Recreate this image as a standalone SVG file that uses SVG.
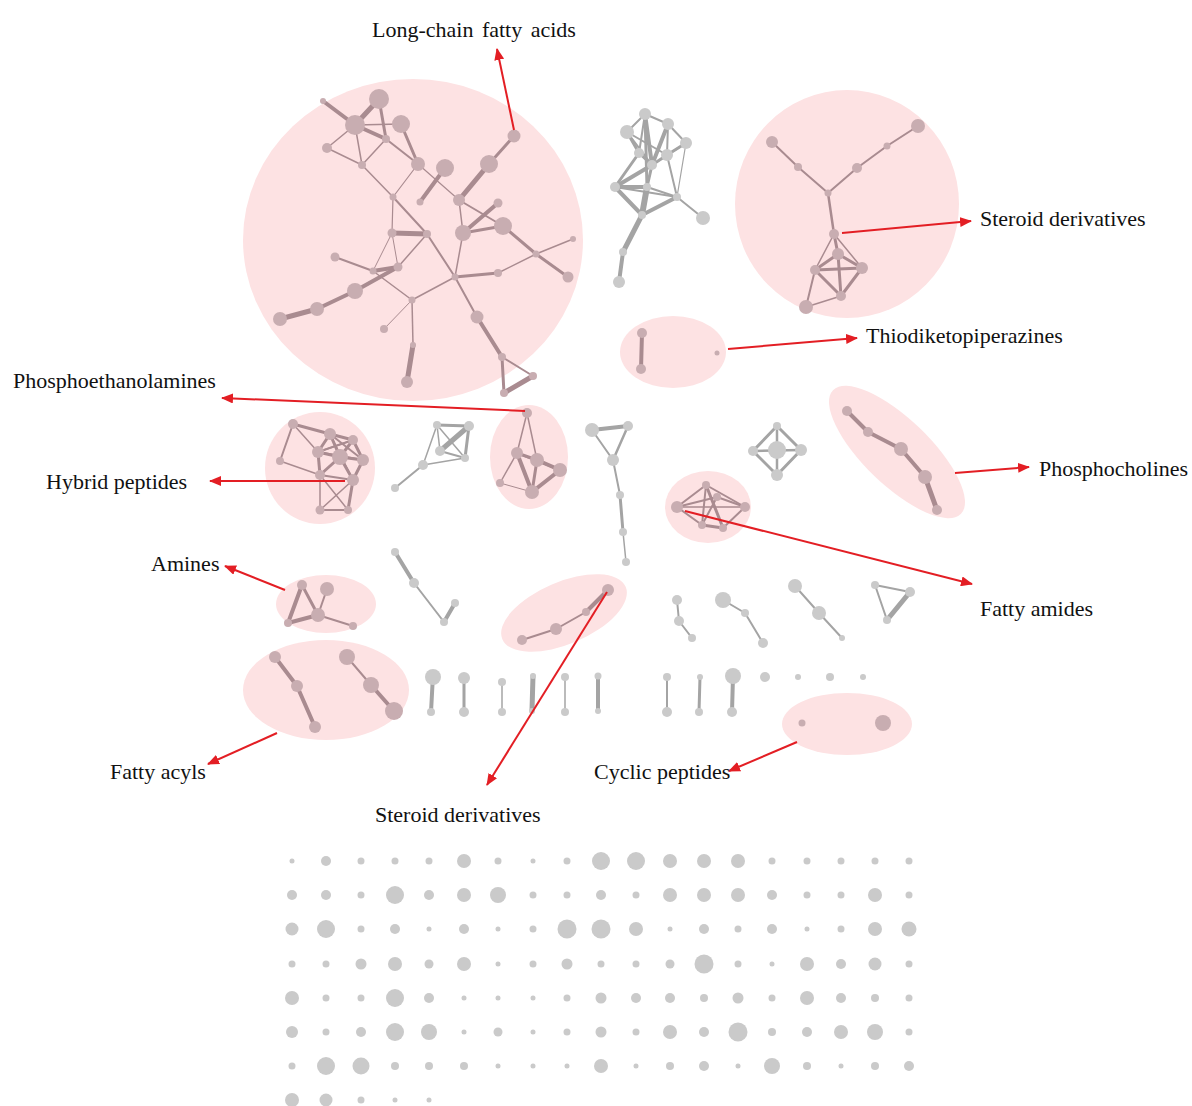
<svg xmlns="http://www.w3.org/2000/svg" width="1192" height="1106" viewBox="0 0 1192 1106">
<style>
.hl{fill:#fde2e3}
.pe line{stroke:#a98b90;stroke-linecap:round}
.ge line{stroke:#a4a4a4;stroke-linecap:round}
.pn circle{fill:#c8adb1}
.gn circle{fill:#cacaca}
.arr line{stroke:#e31e24;stroke-width:2}
text{font-family:"Liberation Serif","Times New Roman",serif;font-size:22px;fill:#111}
</style>
<defs>
<marker id="ah" markerUnits="userSpaceOnUse" markerWidth="12" markerHeight="10" refX="11" refY="5" orient="auto">
<path d="M0,0 L12,5 L0,10 z" fill="#e31e24"/>
</marker>
</defs>
<rect width="1192" height="1106" fill="#fff"/>

<g id="highlights">
<ellipse class="hl" cx="413" cy="240" rx="170" ry="161"/>
<ellipse class="hl" cx="847" cy="204" rx="112" ry="114"/>
<ellipse class="hl" cx="673" cy="352" rx="53" ry="36"/>
<ellipse class="hl" cx="320" cy="468" rx="55" ry="56"/>
<ellipse class="hl" cx="529" cy="457" rx="39" ry="52"/>
<ellipse class="hl" cx="708" cy="507" rx="43" ry="36"/>
<ellipse class="hl" cx="897" cy="452" rx="89" ry="33" transform="rotate(44 897 452)"/>
<ellipse class="hl" cx="326" cy="604" rx="50" ry="29"/>
<ellipse class="hl" cx="564" cy="613" rx="67" ry="31" transform="rotate(-23 564 613)"/>
<ellipse class="hl" cx="326" cy="690" rx="83" ry="50"/>
<ellipse class="hl" cx="847" cy="724" rx="65" ry="31"/>
</g>

<g id="edges">
<g class="pe" id="edges-longchain">
<line x1="323" y1="101" x2="355" y2="125" stroke-width="4"/>
<line x1="379" y1="99" x2="355" y2="125" stroke-width="5"/>
<line x1="379" y1="99" x2="386" y2="139" stroke-width="3"/>
<line x1="355" y1="125" x2="401" y2="124" stroke-width="1.5"/>
<line x1="355" y1="125" x2="386" y2="139" stroke-width="4"/>
<line x1="355" y1="125" x2="327" y2="148" stroke-width="1.5"/>
<line x1="355" y1="125" x2="362" y2="165" stroke-width="1.5"/>
<line x1="327" y1="148" x2="362" y2="165" stroke-width="1.5"/>
<line x1="362" y1="165" x2="386" y2="139" stroke-width="1.5"/>
<line x1="386" y1="139" x2="418" y2="164" stroke-width="2"/>
<line x1="401" y1="124" x2="418" y2="164" stroke-width="3"/>
<line x1="362" y1="165" x2="393" y2="197" stroke-width="1.5"/>
<line x1="393" y1="197" x2="427" y2="234" stroke-width="2"/>
<line x1="427" y1="234" x2="455" y2="277" stroke-width="2"/>
<line x1="455" y1="277" x2="477" y2="317" stroke-width="2"/>
<line x1="477" y1="317" x2="502" y2="357" stroke-width="4"/>
<line x1="418" y1="164" x2="459" y2="200" stroke-width="1.2"/>
<line x1="418" y1="164" x2="393" y2="197" stroke-width="1.2"/>
<line x1="445" y1="168" x2="420" y2="202" stroke-width="4"/>
<line x1="489" y1="164" x2="459" y2="200" stroke-width="5"/>
<line x1="514" y1="136" x2="489" y2="164" stroke-width="3"/>
<line x1="498" y1="203" x2="463" y2="233" stroke-width="4"/>
<line x1="463" y1="233" x2="503" y2="226" stroke-width="3"/>
<line x1="459" y1="200" x2="463" y2="233" stroke-width="1.5"/>
<line x1="459" y1="200" x2="503" y2="226" stroke-width="2"/>
<line x1="503" y1="226" x2="536" y2="254" stroke-width="3"/>
<line x1="536" y1="254" x2="568" y2="277" stroke-width="3"/>
<line x1="536" y1="254" x2="573" y2="239" stroke-width="1.5"/>
<line x1="536" y1="254" x2="498" y2="273" stroke-width="1.5"/>
<line x1="393" y1="197" x2="392" y2="233" stroke-width="1.2"/>
<line x1="392" y1="233" x2="427" y2="234" stroke-width="5"/>
<line x1="427" y1="234" x2="398" y2="267" stroke-width="1.5"/>
<line x1="463" y1="233" x2="455" y2="277" stroke-width="1.5"/>
<line x1="392" y1="233" x2="373" y2="271" stroke-width="1"/>
<line x1="392" y1="233" x2="398" y2="267" stroke-width="1"/>
<line x1="335" y1="257" x2="373" y2="271" stroke-width="2"/>
<line x1="373" y1="271" x2="398" y2="267" stroke-width="4"/>
<line x1="398" y1="267" x2="355" y2="291" stroke-width="4"/>
<line x1="355" y1="291" x2="317" y2="309" stroke-width="4"/>
<line x1="317" y1="309" x2="280" y2="319" stroke-width="5"/>
<line x1="373" y1="271" x2="412" y2="300" stroke-width="1.5"/>
<line x1="455" y1="277" x2="412" y2="300" stroke-width="1.5"/>
<line x1="455" y1="277" x2="498" y2="273" stroke-width="3"/>
<line x1="412" y1="300" x2="384" y2="329" stroke-width="1"/>
<line x1="412" y1="300" x2="413" y2="345" stroke-width="1.5"/>
<line x1="413" y1="345" x2="407" y2="382" stroke-width="5"/>
<line x1="502" y1="357" x2="533" y2="376" stroke-width="2"/>
<line x1="502" y1="357" x2="504" y2="393" stroke-width="3"/>
<line x1="533" y1="376" x2="504" y2="393" stroke-width="5"/>
</g>
<g class="ge" id="edges-topmid">
<line x1="645" y1="114" x2="668" y2="124" stroke-width="2"/>
<line x1="645" y1="114" x2="627" y2="132" stroke-width="2"/>
<line x1="645" y1="114" x2="639" y2="153" stroke-width="2"/>
<line x1="645" y1="114" x2="652" y2="165" stroke-width="4"/>
<line x1="668" y1="124" x2="686" y2="143" stroke-width="2"/>
<line x1="668" y1="124" x2="667" y2="155" stroke-width="2"/>
<line x1="627" y1="132" x2="639" y2="153" stroke-width="3"/>
<line x1="627" y1="132" x2="667" y2="155" stroke-width="2"/>
<line x1="686" y1="143" x2="667" y2="155" stroke-width="3"/>
<line x1="686" y1="143" x2="652" y2="165" stroke-width="2"/>
<line x1="639" y1="153" x2="652" y2="165" stroke-width="3"/>
<line x1="667" y1="155" x2="652" y2="165" stroke-width="3"/>
<line x1="639" y1="153" x2="615" y2="187" stroke-width="3"/>
<line x1="652" y1="165" x2="615" y2="187" stroke-width="4"/>
<line x1="652" y1="165" x2="647" y2="187" stroke-width="3"/>
<line x1="615" y1="187" x2="647" y2="187" stroke-width="4"/>
<line x1="615" y1="187" x2="642" y2="215" stroke-width="4"/>
<line x1="647" y1="187" x2="642" y2="215" stroke-width="6"/>
<line x1="647" y1="187" x2="677" y2="197" stroke-width="2"/>
<line x1="677" y1="197" x2="642" y2="215" stroke-width="4"/>
<line x1="677" y1="197" x2="703" y2="218" stroke-width="2"/>
<line x1="615" y1="187" x2="677" y2="197" stroke-width="2"/>
<line x1="642" y1="215" x2="623" y2="252" stroke-width="5"/>
<line x1="623" y1="252" x2="619" y2="282" stroke-width="4"/>
<line x1="645" y1="114" x2="647" y2="187" stroke-width="3"/>
<line x1="668" y1="124" x2="652" y2="165" stroke-width="4"/>
<line x1="686" y1="143" x2="677" y2="197" stroke-width="1.2"/>
<line x1="667" y1="155" x2="677" y2="197" stroke-width="2"/>
<line x1="627" y1="132" x2="652" y2="165" stroke-width="2"/>
</g>
<g class="pe" id="edges-steroid-top">
<line x1="772" y1="142" x2="798" y2="167" stroke-width="2"/>
<line x1="798" y1="167" x2="828" y2="193" stroke-width="2"/>
<line x1="918" y1="126" x2="887" y2="146" stroke-width="2"/>
<line x1="887" y1="146" x2="857" y2="168" stroke-width="2"/>
<line x1="857" y1="168" x2="828" y2="193" stroke-width="2"/>
<line x1="828" y1="193" x2="834" y2="234" stroke-width="2.5"/>
<line x1="834" y1="234" x2="838" y2="254" stroke-width="3"/>
<line x1="834" y1="234" x2="815" y2="270" stroke-width="1.5"/>
<line x1="834" y1="234" x2="862" y2="268" stroke-width="1.5"/>
<line x1="838" y1="254" x2="815" y2="270" stroke-width="3"/>
<line x1="838" y1="254" x2="862" y2="268" stroke-width="3"/>
<line x1="838" y1="254" x2="841" y2="296" stroke-width="3"/>
<line x1="815" y1="270" x2="862" y2="268" stroke-width="3"/>
<line x1="815" y1="270" x2="841" y2="296" stroke-width="3"/>
<line x1="862" y1="268" x2="841" y2="296" stroke-width="3"/>
<line x1="815" y1="270" x2="806" y2="307" stroke-width="2"/>
<line x1="806" y1="307" x2="841" y2="296" stroke-width="1.5"/>
</g>
<g class="pe" id="edges-thio">
<line x1="642" y1="333" x2="641" y2="369" stroke-width="4"/>
</g>
<g class="ge" id="edges-midchain">
<line x1="592" y1="430" x2="628" y2="426" stroke-width="4"/>
<line x1="592" y1="430" x2="613" y2="460" stroke-width="2"/>
<line x1="628" y1="426" x2="613" y2="460" stroke-width="2.5"/>
<line x1="613" y1="460" x2="620" y2="495" stroke-width="2"/>
<line x1="620" y1="495" x2="623" y2="532" stroke-width="3"/>
<line x1="623" y1="532" x2="626" y2="562" stroke-width="1.5"/>
</g>
<g class="ge" id="edges-diamond">
<line x1="777" y1="426" x2="753" y2="451" stroke-width="3"/>
<line x1="777" y1="426" x2="801" y2="450" stroke-width="3"/>
<line x1="753" y1="451" x2="777" y2="475" stroke-width="3"/>
<line x1="801" y1="450" x2="777" y2="475" stroke-width="3"/>
<line x1="777" y1="426" x2="777" y2="475" stroke-width="2.5"/>
<line x1="753" y1="451" x2="801" y2="450" stroke-width="2.5"/>
</g>
<g class="pe" id="edges-phosphocholines">
<line x1="847" y1="411" x2="868" y2="432" stroke-width="4"/>
<line x1="868" y1="432" x2="901" y2="449" stroke-width="4"/>
<line x1="901" y1="449" x2="925" y2="477" stroke-width="4"/>
<line x1="925" y1="477" x2="937" y2="510" stroke-width="5"/>
</g>
<g class="pe" id="edges-hybrid">
<line x1="293" y1="424" x2="330" y2="434" stroke-width="3"/>
<line x1="293" y1="424" x2="280" y2="461" stroke-width="2"/>
<line x1="293" y1="424" x2="318" y2="452" stroke-width="1.5"/>
<line x1="280" y1="461" x2="320" y2="475" stroke-width="1.5"/>
<line x1="330" y1="434" x2="353" y2="440" stroke-width="3"/>
<line x1="330" y1="434" x2="318" y2="452" stroke-width="3"/>
<line x1="330" y1="434" x2="340" y2="457" stroke-width="3"/>
<line x1="330" y1="434" x2="363" y2="460" stroke-width="2"/>
<line x1="353" y1="440" x2="363" y2="460" stroke-width="3"/>
<line x1="353" y1="440" x2="340" y2="457" stroke-width="3"/>
<line x1="353" y1="440" x2="318" y2="452" stroke-width="2"/>
<line x1="318" y1="452" x2="340" y2="457" stroke-width="3"/>
<line x1="318" y1="452" x2="320" y2="475" stroke-width="3"/>
<line x1="318" y1="452" x2="363" y2="460" stroke-width="2"/>
<line x1="340" y1="457" x2="363" y2="460" stroke-width="3"/>
<line x1="340" y1="457" x2="320" y2="475" stroke-width="3"/>
<line x1="340" y1="457" x2="353" y2="480" stroke-width="3"/>
<line x1="363" y1="460" x2="353" y2="480" stroke-width="3"/>
<line x1="320" y1="475" x2="353" y2="480" stroke-width="2"/>
<line x1="320" y1="475" x2="320" y2="510" stroke-width="1.5"/>
<line x1="353" y1="480" x2="348" y2="510" stroke-width="3"/>
<line x1="320" y1="475" x2="348" y2="510" stroke-width="1.5"/>
<line x1="353" y1="480" x2="320" y2="510" stroke-width="1.5"/>
<line x1="320" y1="510" x2="348" y2="510" stroke-width="2"/>
<line x1="330" y1="434" x2="353" y2="480" stroke-width="1.5"/>
<line x1="318" y1="452" x2="353" y2="440" stroke-width="1.5"/>
</g>
<g class="ge" id="edges-midgray">
<line x1="437" y1="425" x2="469" y2="426" stroke-width="3"/>
<line x1="437" y1="425" x2="440" y2="451" stroke-width="1.5"/>
<line x1="469" y1="426" x2="465" y2="458" stroke-width="3"/>
<line x1="469" y1="426" x2="440" y2="451" stroke-width="5"/>
<line x1="440" y1="451" x2="465" y2="458" stroke-width="2"/>
<line x1="437" y1="425" x2="423" y2="465" stroke-width="1.5"/>
<line x1="423" y1="465" x2="465" y2="458" stroke-width="1.5"/>
<line x1="437" y1="425" x2="465" y2="458" stroke-width="1.5"/>
<line x1="423" y1="465" x2="395" y2="488" stroke-width="2"/>
</g>
<g class="pe" id="edges-phosphoeth">
<line x1="527" y1="413" x2="517" y2="453" stroke-width="1.5"/>
<line x1="527" y1="413" x2="537" y2="460" stroke-width="1.5"/>
<line x1="517" y1="453" x2="537" y2="460" stroke-width="3"/>
<line x1="537" y1="460" x2="560" y2="470" stroke-width="4"/>
<line x1="517" y1="453" x2="532" y2="492" stroke-width="4"/>
<line x1="537" y1="460" x2="532" y2="492" stroke-width="3"/>
<line x1="560" y1="470" x2="532" y2="492" stroke-width="4"/>
<line x1="500" y1="483" x2="517" y2="453" stroke-width="1.5"/>
<line x1="500" y1="483" x2="532" y2="492" stroke-width="1"/>
<line x1="517" y1="453" x2="560" y2="470" stroke-width="2"/>
</g>
<g class="pe" id="edges-fattyamides">
<line x1="677" y1="507" x2="706" y2="485" stroke-width="2"/>
<line x1="706" y1="485" x2="745" y2="507" stroke-width="2"/>
<line x1="677" y1="507" x2="702" y2="525" stroke-width="2"/>
<line x1="702" y1="525" x2="723" y2="528" stroke-width="3"/>
<line x1="723" y1="528" x2="745" y2="507" stroke-width="2"/>
<line x1="706" y1="485" x2="723" y2="528" stroke-width="3"/>
<line x1="717" y1="497" x2="702" y2="525" stroke-width="2"/>
<line x1="717" y1="497" x2="745" y2="507" stroke-width="2"/>
<line x1="677" y1="507" x2="745" y2="507" stroke-width="1.5"/>
<line x1="706" y1="485" x2="702" y2="525" stroke-width="2"/>
<line x1="677" y1="507" x2="717" y2="497" stroke-width="2"/>
</g>
<g class="pe" id="edges-amines">
<line x1="302" y1="585" x2="288" y2="623" stroke-width="4"/>
<line x1="302" y1="585" x2="318" y2="615" stroke-width="3"/>
<line x1="288" y1="623" x2="318" y2="615" stroke-width="4"/>
<line x1="327" y1="589" x2="318" y2="615" stroke-width="2"/>
<line x1="318" y1="615" x2="353" y2="626" stroke-width="2"/>
</g>
<g class="ge" id="edges-lowgray">
<line x1="395" y1="552" x2="414" y2="583" stroke-width="4"/>
<line x1="414" y1="583" x2="444" y2="622" stroke-width="2"/>
<line x1="444" y1="622" x2="455" y2="603" stroke-width="4"/>
<line x1="677" y1="600" x2="679" y2="621" stroke-width="2"/>
<line x1="679" y1="621" x2="692" y2="638" stroke-width="2"/>
<line x1="723" y1="600" x2="745" y2="613" stroke-width="2"/>
<line x1="745" y1="613" x2="763" y2="643" stroke-width="2"/>
<line x1="795" y1="586" x2="819" y2="613" stroke-width="2"/>
<line x1="819" y1="613" x2="842" y2="638" stroke-width="2"/>
<line x1="875" y1="585" x2="910" y2="592" stroke-width="2"/>
<line x1="875" y1="585" x2="887" y2="620" stroke-width="2"/>
<line x1="910" y1="592" x2="887" y2="620" stroke-width="5"/>
<line x1="433" y1="675" x2="431" y2="712" stroke-width="4"/>
<line x1="464" y1="678" x2="464" y2="712" stroke-width="3"/>
<line x1="502" y1="682" x2="502" y2="712" stroke-width="1.5"/>
<line x1="533" y1="676" x2="532" y2="710" stroke-width="5"/>
<line x1="565" y1="677" x2="565" y2="712" stroke-width="1.5"/>
<line x1="598" y1="676" x2="598" y2="710" stroke-width="4"/>
<line x1="667" y1="677" x2="667" y2="712" stroke-width="2"/>
<line x1="700" y1="677" x2="699" y2="712" stroke-width="3"/>
<line x1="733" y1="676" x2="732" y2="712" stroke-width="4"/>
</g>
<g class="pe" id="edges-steroid-bottom">
<line x1="608" y1="590" x2="586" y2="612" stroke-width="4"/>
<line x1="586" y1="612" x2="556" y2="629" stroke-width="2"/>
<line x1="556" y1="629" x2="522" y2="640" stroke-width="2"/>
</g>
<g class="pe" id="edges-fattyacyls">
<line x1="275" y1="657" x2="297" y2="686" stroke-width="4"/>
<line x1="297" y1="686" x2="315" y2="727" stroke-width="4"/>
<line x1="347" y1="657" x2="371" y2="685" stroke-width="2"/>
<line x1="371" y1="685" x2="394" y2="711" stroke-width="4"/>
</g>
</g>

<g id="node-long-chain-fatty-acids" class="pn">
<circle cx="323" cy="101" r="3" fill="#d2c4c6"/>
<circle cx="379" cy="99" r="10"/>
<circle cx="355" cy="125" r="10"/>
<circle cx="401" cy="124" r="9"/>
<circle cx="327" cy="148" r="5"/>
<circle cx="386" cy="139" r="4"/>
<circle cx="362" cy="165" r="4"/>
<circle cx="418" cy="164" r="7"/>
<circle cx="445" cy="168" r="9"/>
<circle cx="489" cy="164" r="9"/>
<circle cx="514" cy="136" r="6.5"/>
<circle cx="393" cy="197" r="3.5"/>
<circle cx="420" cy="202" r="3.5"/>
<circle cx="459" cy="200" r="6"/>
<circle cx="498" cy="203" r="4.5"/>
<circle cx="392" cy="233" r="4.5"/>
<circle cx="427" cy="234" r="4"/>
<circle cx="463" cy="233" r="8"/>
<circle cx="503" cy="226" r="9"/>
<circle cx="573" cy="239" r="3"/>
<circle cx="536" cy="254" r="3.5"/>
<circle cx="568" cy="277" r="5.5"/>
<circle cx="335" cy="257" r="4.5"/>
<circle cx="373" cy="271" r="3.5"/>
<circle cx="398" cy="267" r="4.5"/>
<circle cx="455" cy="277" r="3.5"/>
<circle cx="498" cy="273" r="4"/>
<circle cx="355" cy="291" r="8"/>
<circle cx="317" cy="309" r="7"/>
<circle cx="280" cy="319" r="7"/>
<circle cx="412" cy="300" r="3.5"/>
<circle cx="384" cy="329" r="4"/>
<circle cx="477" cy="317" r="6.5"/>
<circle cx="413" cy="345" r="3"/>
<circle cx="407" cy="382" r="6"/>
<circle cx="502" cy="357" r="4"/>
<circle cx="533" cy="376" r="4" fill="#cfcbcc"/>
<circle cx="504" cy="393" r="4" fill="#cfcbcc"/>
</g>

<g id="node-topmid" class="gn">
<circle cx="645" cy="114" r="6"/>
<circle cx="668" cy="124" r="6"/>
<circle cx="627" cy="132" r="7"/>
<circle cx="686" cy="143" r="6"/>
<circle cx="639" cy="153" r="5"/>
<circle cx="667" cy="155" r="6"/>
<circle cx="652" cy="165" r="5"/>
<circle cx="615" cy="187" r="5"/>
<circle cx="647" cy="187" r="4"/>
<circle cx="677" cy="197" r="4"/>
<circle cx="642" cy="215" r="4"/>
<circle cx="703" cy="218" r="7"/>
<circle cx="623" cy="252" r="4"/>
<circle cx="619" cy="282" r="6"/>
</g>

<g id="node-steroid-derivatives-top" class="pn">
<circle cx="772" cy="142" r="6"/>
<circle cx="798" cy="167" r="4"/>
<circle cx="918" cy="126" r="7"/>
<circle cx="887" cy="146" r="3.5"/>
<circle cx="857" cy="168" r="5"/>
<circle cx="828" cy="193" r="3.5"/>
<circle cx="834" cy="234" r="5"/>
<circle cx="838" cy="254" r="6"/>
<circle cx="815" cy="270" r="5"/>
<circle cx="862" cy="268" r="6"/>
<circle cx="841" cy="296" r="5"/>
<circle cx="806" cy="307" r="7"/>
</g>

<g id="node-thiodiketopiperazines" class="pn">
<circle cx="642" cy="333" r="5"/>
<circle cx="641" cy="369" r="5"/>
<circle cx="717" cy="353" r="2.5"/>
</g>

<g id="node-midchain" class="gn">
<circle cx="592" cy="430" r="7"/>
<circle cx="628" cy="426" r="5"/>
<circle cx="613" cy="460" r="6"/>
<circle cx="620" cy="495" r="4"/>
<circle cx="623" cy="532" r="4"/>
<circle cx="626" cy="562" r="4"/>
</g>

<g id="node-diamond" class="gn">
<circle cx="777" cy="450" r="9"/>
<circle cx="777" cy="426" r="4"/>
<circle cx="753" cy="451" r="5"/>
<circle cx="801" cy="450" r="6"/>
<circle cx="777" cy="475" r="6"/>
</g>

<g id="node-phosphocholines" class="pn">
<circle cx="847" cy="411" r="5"/>
<circle cx="868" cy="432" r="5"/>
<circle cx="901" cy="449" r="7"/>
<circle cx="925" cy="477" r="7"/>
<circle cx="937" cy="510" r="5"/>
</g>

<g id="node-hybrid-peptides" class="pn">
<circle cx="293" cy="424" r="5"/>
<circle cx="280" cy="461" r="4"/>
<circle cx="330" cy="434" r="6"/>
<circle cx="353" cy="440" r="5"/>
<circle cx="318" cy="452" r="6"/>
<circle cx="363" cy="460" r="6"/>
<circle cx="340" cy="457" r="8"/>
<circle cx="320" cy="475" r="5"/>
<circle cx="353" cy="480" r="6"/>
<circle cx="320" cy="510" r="4.5"/>
<circle cx="348" cy="510" r="4"/>
</g>

<g id="node-midgray" class="gn">
<circle cx="437" cy="425" r="4"/>
<circle cx="469" cy="426" r="5"/>
<circle cx="440" cy="451" r="5"/>
<circle cx="465" cy="458" r="4"/>
<circle cx="423" cy="465" r="5"/>
<circle cx="395" cy="488" r="4"/>
</g>

<g id="node-phosphoethanolamines" class="pn">
<circle cx="527" cy="413" r="5"/>
<circle cx="517" cy="453" r="6"/>
<circle cx="537" cy="460" r="7"/>
<circle cx="560" cy="470" r="7"/>
<circle cx="500" cy="483" r="4"/>
<circle cx="532" cy="492" r="7"/>
</g>

<g id="node-fatty-amides" class="pn">
<circle cx="677" cy="507" r="6"/>
<circle cx="706" cy="485" r="4"/>
<circle cx="745" cy="507" r="5"/>
<circle cx="702" cy="525" r="4"/>
<circle cx="723" cy="528" r="4"/>
<circle cx="717" cy="497" r="4"/>
</g>

<g id="node-amines" class="pn">
<circle cx="302" cy="585" r="5"/>
<circle cx="327" cy="589" r="7"/>
<circle cx="318" cy="615" r="7"/>
<circle cx="288" cy="623" r="4"/>
<circle cx="353" cy="626" r="4"/>
</g>

<g id="node-steroid-derivatives-bottom" class="pn">
<circle cx="608" cy="590" r="6"/>
<circle cx="586" cy="612" r="4"/>
<circle cx="556" cy="629" r="6"/>
<circle cx="522" cy="640" r="5"/>
</g>

<g id="node-fatty-acyls" class="pn">
<circle cx="275" cy="657" r="6"/>
<circle cx="297" cy="686" r="6"/>
<circle cx="315" cy="727" r="6"/>
<circle cx="347" cy="657" r="8"/>
<circle cx="371" cy="685" r="8"/>
<circle cx="394" cy="711" r="9"/>
</g>

<g id="node-cyclic-peptides" class="pn">
<circle cx="802" cy="723" r="3.5"/>
<circle cx="883" cy="723" r="8"/>
</g>

<g id="node-small-gray" class="gn">
<circle cx="395" cy="552" r="4"/>
<circle cx="414" cy="583" r="5"/>
<circle cx="444" cy="622" r="4"/>
<circle cx="455" cy="603" r="4"/>
<circle cx="677" cy="600" r="5"/>
<circle cx="679" cy="621" r="5"/>
<circle cx="692" cy="638" r="4"/>
<circle cx="723" cy="600" r="8"/>
<circle cx="745" cy="613" r="4"/>
<circle cx="763" cy="643" r="5"/>
<circle cx="795" cy="586" r="7"/>
<circle cx="819" cy="613" r="7"/>
<circle cx="842" cy="638" r="3"/>
<circle cx="875" cy="585" r="4"/>
<circle cx="910" cy="592" r="5"/>
<circle cx="887" cy="620" r="4"/>
<circle cx="433" cy="677" r="8"/>
<circle cx="431" cy="712" r="4"/>
<circle cx="464" cy="678" r="6"/>
<circle cx="464" cy="712" r="5"/>
<circle cx="502" cy="682" r="4"/>
<circle cx="502" cy="712" r="4"/>
<circle cx="533" cy="676" r="3"/>
<circle cx="532" cy="711" r="3"/>
<circle cx="565" cy="677" r="4"/>
<circle cx="565" cy="712" r="4"/>
<circle cx="598" cy="676" r="3.5"/>
<circle cx="598" cy="711" r="3"/>
<circle cx="667" cy="677" r="4"/>
<circle cx="667" cy="712" r="5"/>
<circle cx="700" cy="677" r="3"/>
<circle cx="699" cy="712" r="4"/>
<circle cx="733" cy="676" r="8"/>
<circle cx="732" cy="712" r="5"/>
<circle cx="765" cy="677" r="5"/>
<circle cx="798" cy="677" r="3"/>
<circle cx="830" cy="677" r="4"/>
<circle cx="863" cy="677" r="3"/>
</g>

<g id="node-singletons" class="gn">
<circle cx="292" cy="861" r="2.5"/><circle cx="326" cy="861" r="5"/><circle cx="361" cy="861" r="3.5"/><circle cx="395" cy="861" r="3.5"/><circle cx="429" cy="861" r="3.5"/><circle cx="464" cy="861" r="7"/><circle cx="498" cy="861" r="3.5"/><circle cx="533" cy="861" r="2.5"/><circle cx="567" cy="861" r="3.5"/><circle cx="601" cy="861" r="9"/><circle cx="636" cy="861" r="9"/><circle cx="670" cy="861" r="7"/><circle cx="704" cy="861" r="7"/><circle cx="738" cy="861" r="7"/><circle cx="772" cy="861" r="3.5"/><circle cx="807" cy="861" r="3.5"/><circle cx="841" cy="861" r="3.5"/><circle cx="875" cy="861" r="3.5"/><circle cx="909" cy="861" r="3.5"/>
<circle cx="292" cy="895" r="5"/><circle cx="326" cy="895" r="5"/><circle cx="361" cy="895" r="3.5"/><circle cx="395" cy="895" r="9"/><circle cx="429" cy="895" r="5"/><circle cx="464" cy="895" r="7"/><circle cx="498" cy="895" r="8"/><circle cx="533" cy="895" r="3.5"/><circle cx="567" cy="895" r="3.5"/><circle cx="601" cy="895" r="5"/><circle cx="636" cy="895" r="3.5"/><circle cx="670" cy="895" r="7"/><circle cx="704" cy="895" r="7"/><circle cx="738" cy="895" r="7"/><circle cx="772" cy="895" r="5"/><circle cx="807" cy="895" r="3.5"/><circle cx="841" cy="895" r="3.5"/><circle cx="875" cy="895" r="7"/><circle cx="909" cy="895" r="3.5"/>
<circle cx="292" cy="929" r="6.5"/><circle cx="326" cy="929" r="9"/><circle cx="361" cy="929" r="3.5"/><circle cx="395" cy="929" r="5"/><circle cx="429" cy="929" r="2.5"/><circle cx="464" cy="929" r="5"/><circle cx="498" cy="929" r="2.5"/><circle cx="533" cy="929" r="3.5"/><circle cx="567" cy="929" r="9.5"/><circle cx="601" cy="929" r="9.5"/><circle cx="636" cy="929" r="7"/><circle cx="670" cy="929" r="2.5"/><circle cx="704" cy="929" r="5"/><circle cx="738" cy="929" r="3.5"/><circle cx="772" cy="929" r="5"/><circle cx="807" cy="929" r="2.5"/><circle cx="841" cy="929" r="3.5"/><circle cx="875" cy="929" r="7"/><circle cx="909" cy="929" r="7.5"/>
<circle cx="292" cy="964" r="3.5"/><circle cx="326" cy="964" r="3.5"/><circle cx="361" cy="964" r="5.5"/><circle cx="395" cy="964" r="7"/><circle cx="429" cy="964" r="4.5"/><circle cx="464" cy="964" r="7"/><circle cx="498" cy="964" r="2.5"/><circle cx="533" cy="964" r="3.5"/><circle cx="567" cy="964" r="5.5"/><circle cx="601" cy="964" r="3.5"/><circle cx="636" cy="964" r="3.5"/><circle cx="670" cy="964" r="4.5"/><circle cx="704" cy="964" r="9.5"/><circle cx="738" cy="964" r="3.5"/><circle cx="772" cy="964" r="2.5"/><circle cx="807" cy="964" r="7"/><circle cx="841" cy="964" r="5"/><circle cx="875" cy="964" r="6.5"/><circle cx="909" cy="964" r="3.5"/>
<circle cx="292" cy="998" r="7"/><circle cx="326" cy="998" r="3.5"/><circle cx="361" cy="998" r="3.5"/><circle cx="395" cy="998" r="9"/><circle cx="429" cy="998" r="5"/><circle cx="464" cy="998" r="2.5"/><circle cx="498" cy="998" r="2.5"/><circle cx="533" cy="998" r="2.5"/><circle cx="567" cy="998" r="3.5"/><circle cx="601" cy="998" r="5.5"/><circle cx="636" cy="998" r="5"/><circle cx="670" cy="998" r="5"/><circle cx="704" cy="998" r="4"/><circle cx="738" cy="998" r="5.5"/><circle cx="772" cy="998" r="3.5"/><circle cx="807" cy="998" r="7"/><circle cx="841" cy="998" r="5"/><circle cx="875" cy="998" r="4"/><circle cx="909" cy="998" r="3.5"/>
<circle cx="292" cy="1032" r="6"/><circle cx="326" cy="1032" r="3.5"/><circle cx="361" cy="1032" r="5"/><circle cx="395" cy="1032" r="9"/><circle cx="429" cy="1032" r="8"/><circle cx="464" cy="1032" r="2.5"/><circle cx="498" cy="1032" r="4.5"/><circle cx="533" cy="1032" r="2.5"/><circle cx="567" cy="1032" r="3.5"/><circle cx="601" cy="1032" r="5.5"/><circle cx="636" cy="1032" r="3.5"/><circle cx="670" cy="1032" r="7"/><circle cx="704" cy="1032" r="5"/><circle cx="738" cy="1032" r="9.5"/><circle cx="772" cy="1032" r="4"/><circle cx="807" cy="1032" r="5"/><circle cx="841" cy="1032" r="7"/><circle cx="875" cy="1032" r="8"/><circle cx="909" cy="1032" r="3.5"/>
<circle cx="292" cy="1066" r="3.5"/><circle cx="326" cy="1066" r="9"/><circle cx="361" cy="1066" r="8.5"/><circle cx="395" cy="1066" r="4"/><circle cx="429" cy="1066" r="4"/><circle cx="464" cy="1066" r="4"/><circle cx="498" cy="1066" r="2.5"/><circle cx="533" cy="1066" r="2.5"/><circle cx="567" cy="1066" r="2.5"/><circle cx="601" cy="1066" r="7"/><circle cx="636" cy="1066" r="2.5"/><circle cx="670" cy="1066" r="4"/><circle cx="704" cy="1066" r="5"/><circle cx="738" cy="1066" r="2.5"/><circle cx="772" cy="1066" r="8"/><circle cx="807" cy="1066" r="4"/><circle cx="841" cy="1066" r="2.5"/><circle cx="875" cy="1066" r="4"/><circle cx="909" cy="1066" r="5"/>
<circle cx="292" cy="1100" r="7"/><circle cx="326" cy="1100" r="6.5"/><circle cx="361" cy="1100" r="3.5"/><circle cx="395" cy="1100" r="2.5"/><circle cx="429" cy="1100" r="2.5"/>
</g>

<g id="connectors" class="arr">
<line x1="514" y1="130" x2="497" y2="49" marker-end="url(#ah)"/>
<line x1="842" y1="233" x2="971" y2="221" marker-end="url(#ah)"/>
<line x1="728" y1="349" x2="857" y2="338" marker-end="url(#ah)"/>
<line x1="525" y1="411" x2="222" y2="398" marker-end="url(#ah)"/>
<line x1="345" y1="481" x2="210" y2="481" marker-end="url(#ah)"/>
<line x1="955" y1="473" x2="1029" y2="467" marker-end="url(#ah)"/>
<line x1="685" y1="511" x2="972" y2="584" marker-end="url(#ah)"/>
<line x1="285" y1="590" x2="225" y2="566" marker-end="url(#ah)"/>
<line x1="277" y1="733" x2="208" y2="764" marker-end="url(#ah)"/>
<line x1="607" y1="592" x2="487" y2="785" marker-end="url(#ah)"/>
<line x1="797" y1="742" x2="729" y2="771" marker-end="url(#ah)"/>
</g>

<g id="labels">
<text x="372" y="37" word-spacing="3">Long-chain fatty acids</text>
<text x="980" y="226">Steroid derivatives</text>
<text x="866" y="343">Thiodiketopiperazines</text>
<text x="13" y="388">Phosphoethanolamines</text>
<text x="46" y="489">Hybrid peptides</text>
<text x="1039" y="476">Phosphocholines</text>
<text x="151" y="571">Amines</text>
<text x="980" y="616">Fatty amides</text>
<text x="110" y="779">Fatty acyls</text>
<text x="594" y="779">Cyclic peptides</text>
<text x="375" y="822">Steroid derivatives</text>
</g>
</svg>
